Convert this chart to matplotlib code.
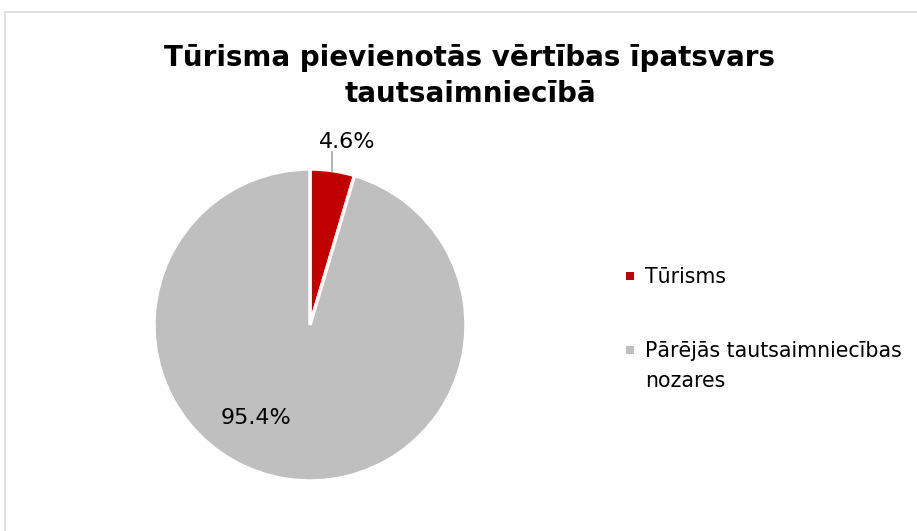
import matplotlib
matplotlib.use("Agg")
import matplotlib.pyplot as plt
import matplotlib.patches as mpatches
import numpy as np
import textwrap

categories = ["Tūrisms", "Pārējās tautsaimniecības nozares"]
values = [4.6, 95.4]
colors = ["#C00000", "#BFBFBF"]
title = "Tūrisma pievienotās vērtības īpatsvars\ntautsaimniecībā"

W, H = 917, 531
fig = plt.figure(figsize=(W / 100, H / 100), dpi=100)
plt.rcParams['font.family'] = ['DejaVu Sans']

# chart border
fig.patches.append(mpatches.Rectangle((5 / W, -0.05), 1.05, (H - 12) / H + 0.05,
                                      transform=fig.transFigure, fill=False,
                                      edgecolor="#D9D9D9", linewidth=1.2))

cx, cy, R = 310, 325, 156
half = 170
ax = fig.add_axes([(cx - half) / W, (H - cy - half) / H, 2 * half / W, 2 * half / H])

wedges, _ = ax.pie(values, colors=colors, startangle=90, counterclock=False,
                   radius=1, wedgeprops=dict(edgecolor="white", linewidth=2.5))
lim = half / R
ax.set_xlim(-lim, lim)
ax.set_ylim(-lim, lim)
ax.set_aspect("equal")
ax.axis("off")

# label for small slice with leader line
w0 = wedges[0]
mid = np.deg2rad((w0.theta1 + w0.theta2) / 2)
x0, y0 = np.cos(mid), np.sin(mid)
ax.plot([x0, x0], [y0, 1.11], color="#A6A6A6", linewidth=1.2, clip_on=False)
ax.text(x0 + 0.095, 1.175, f"{values[0]:.1f}%", ha="center", va="center",
        fontsize=16, color="#000000")

# label for large slice
ax.text(-0.345, -0.595, f"{values[1]:.1f}%", ha="center", va="center",
        fontsize=16, color="#000000")

fig.text(470 / W, 1 - 76 / H, title, ha="center", va="center",
         fontsize=20, fontweight="bold", color="#000000", linespacing=1.38)

# legend (marker aligned with first line of each label)
leg_x, leg_y0, leg_dy, msize = 630, 276, 74, 8.5
for i, (cat, col) in enumerate(zip(categories, colors)):
    yy = leg_y0 + i * leg_dy
    fig.patches.append(mpatches.Rectangle(((leg_x - msize / 2) / W, 1 - (yy + msize / 2) / H),
                                          msize / W, msize / H, transform=fig.transFigure,
                                          facecolor=col, edgecolor="none"))
    fig.text((leg_x + 15) / W, 1 - (yy - 9) / H, textwrap.fill(cat, 24),
             ha="left", va="top", fontsize=14.8, color="#000000", linespacing=1.65)

fig.savefig("out.png", dpi=100)
